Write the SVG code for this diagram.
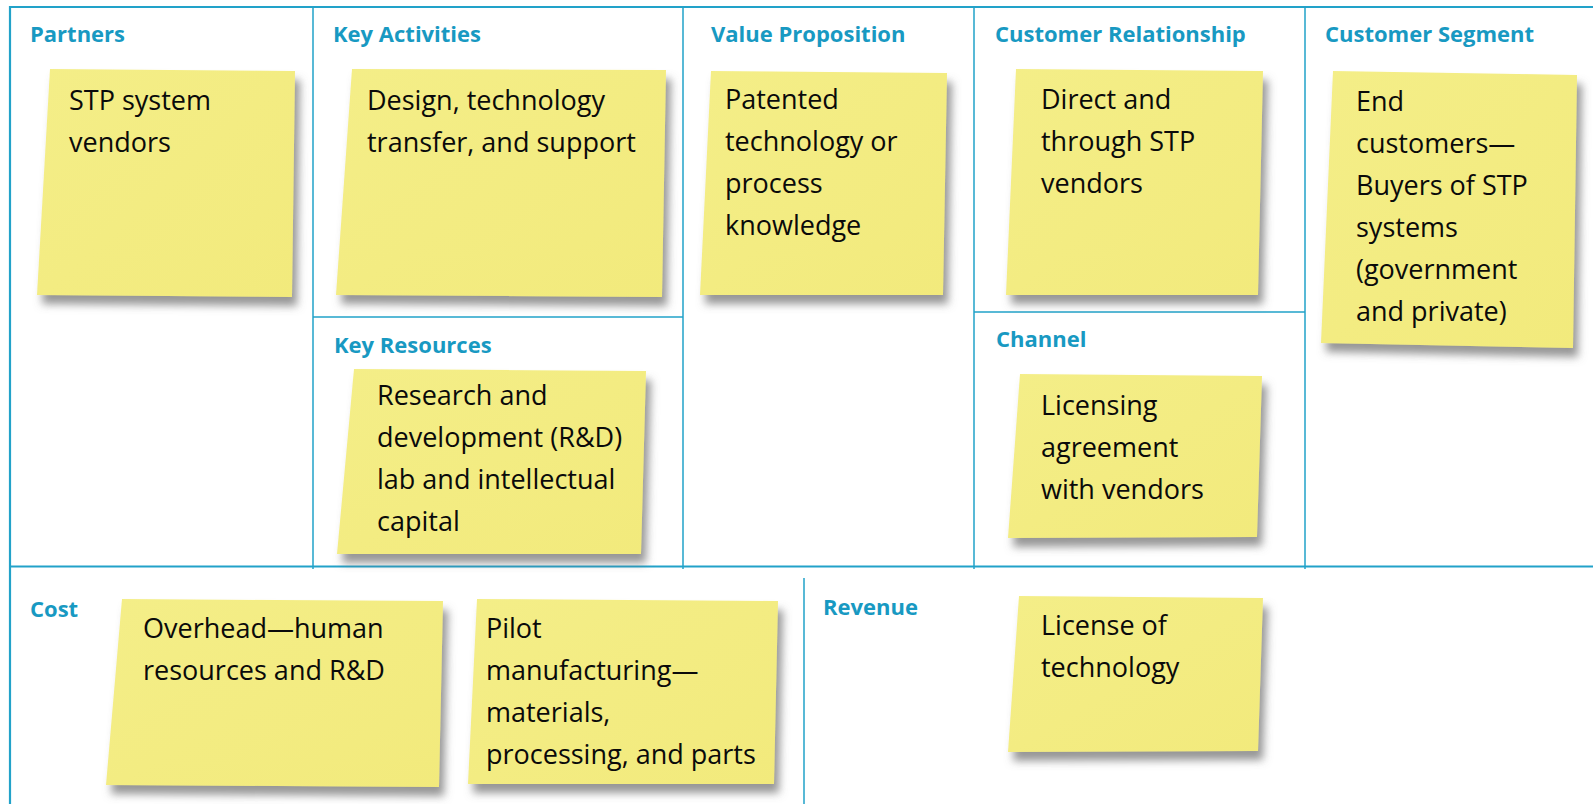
<svg xmlns="http://www.w3.org/2000/svg" width="1593" height="804" viewBox="0 0 1593 804">
<style>
.t{font-family:"Open Sans","Liberation Sans",sans-serif;font-size:27px;fill:#0a0a0a}
.h{font-family:"Open Sans","Liberation Sans",sans-serif;font-weight:700;font-size:22px;fill:#1899C2}
.g{stroke:#22A2C9;stroke-width:1.5;fill:none}
.note{fill:url(#ny);filter:url(#sh)}
</style>
<defs>
<linearGradient id="ny" x1="0" y1="0" x2="1" y2="1">
<stop offset="0" stop-color="#F4EE88"/>
<stop offset="1" stop-color="#F2EA7C"/>
</linearGradient>
<filter id="sh" x="-10%" y="-10%" width="130%" height="130%">
<feGaussianBlur in="SourceAlpha" stdDeviation="4"/>
<feOffset dx="5" dy="9" result="b"/>
<feFlood flood-color="#6a6a6a" flood-opacity="0.7"/>
<feComposite in2="b" operator="in"/>
<feMerge><feMergeNode/><feMergeNode in="SourceGraphic"/></feMerge>
</filter>
</defs>
<rect width="1593" height="804" fill="#fff"/>
<g id="grid">
<path class="g" style="stroke-width:2.2" d="M10,804 V7 H1593"/>
<path class="g" style="stroke-width:2" d="M10,566.5 H1593"/>
<path class="g" d="M313,7 V569 M683,7 V569 M974,7 V569 M1305,7 V569 M313,317 H683 M974,312 H1305 M804,578 V804"/>
</g>
<g id="connectors"></g>
<g id="partners">
<text class="h" x="30" y="42">Partners</text>
<polygon class="note" points="50,69 295,71 292,297 37,295"/>
<text class="t" x="69" y="110">STP system</text>
<text class="t" x="69" y="152">vendors</text>
</g>
<g id="key-activities">
<text class="h" x="333" y="42">Key Activities</text>
<polygon class="note" points="352,69 666,70 662,297 336,295"/>
<text class="t" x="367" y="110">Design, technology</text>
<text class="t" x="367" y="152">transfer, and support</text>
</g>
<g id="key-resources">
<text class="h" x="334" y="353">Key Resources</text>
<polygon class="note" points="354,369 646,371 641,554 337,554"/>
<text class="t" x="377" y="405">Research and</text>
<text class="t" x="377" y="447">development (R&amp;D)</text>
<text class="t" x="377" y="489">lab and intellectual</text>
<text class="t" x="377" y="531">capital</text>
</g>
<g id="value-proposition">
<text class="h" x="711" y="42">Value Proposition</text>
<polygon class="note" points="711,71 947,73 943,295 700,295"/>
<text class="t" x="725" y="109">Patented</text>
<text class="t" x="725" y="151">technology or</text>
<text class="t" x="725" y="193">process</text>
<text class="t" x="725" y="235">knowledge</text>
</g>
<g id="customer-relationship">
<text class="h" x="995" y="42">Customer Relationship</text>
<polygon class="note" points="1016,69 1263,71 1258,295 1006,295"/>
<text class="t" x="1041" y="109">Direct and</text>
<text class="t" x="1041" y="151">through STP</text>
<text class="t" x="1041" y="193">vendors</text>
</g>
<g id="channel">
<text class="h" x="996" y="347">Channel</text>
<polygon class="note" points="1020,374 1262,376 1257,537 1008,538"/>
<text class="t" x="1041" y="415">Licensing</text>
<text class="t" x="1041" y="457">agreement</text>
<text class="t" x="1041" y="499">with vendors</text>
</g>
<g id="customer-segment">
<text class="h" x="1325" y="42">Customer Segment</text>
<polygon class="note" points="1333,71 1577,75 1573,348 1321,343"/>
<text class="t" x="1356" y="111">End</text>
<text class="t" x="1356" y="153">customers—</text>
<text class="t" x="1356" y="195">Buyers of STP</text>
<text class="t" x="1356" y="237">systems</text>
<text class="t" x="1356" y="279">(government</text>
<text class="t" x="1356" y="321">and private)</text>
</g>
<g id="cost">
<text class="h" x="30" y="617">Cost</text>
<polygon class="note" points="122,599 443,601 439,787 106,785"/>
<text class="t" x="143" y="638">Overhead—human</text>
<text class="t" x="143" y="680">resources and R&amp;D</text>
<polygon class="note" points="477,599 778,601 774,784 468,784"/>
<text class="t" x="486" y="638">Pilot</text>
<text class="t" x="486" y="680">manufacturing—</text>
<text class="t" x="486" y="722">materials,</text>
<text class="t" x="486" y="764">processing, and parts</text>
</g>
<g id="revenue">
<text class="h" x="823" y="615">Revenue</text>
<polygon class="note" points="1019,596 1263,598 1258,751 1008,752"/>
<text class="t" x="1041" y="635">License of</text>
<text class="t" x="1041" y="677">technology</text>
</g>
</svg>
